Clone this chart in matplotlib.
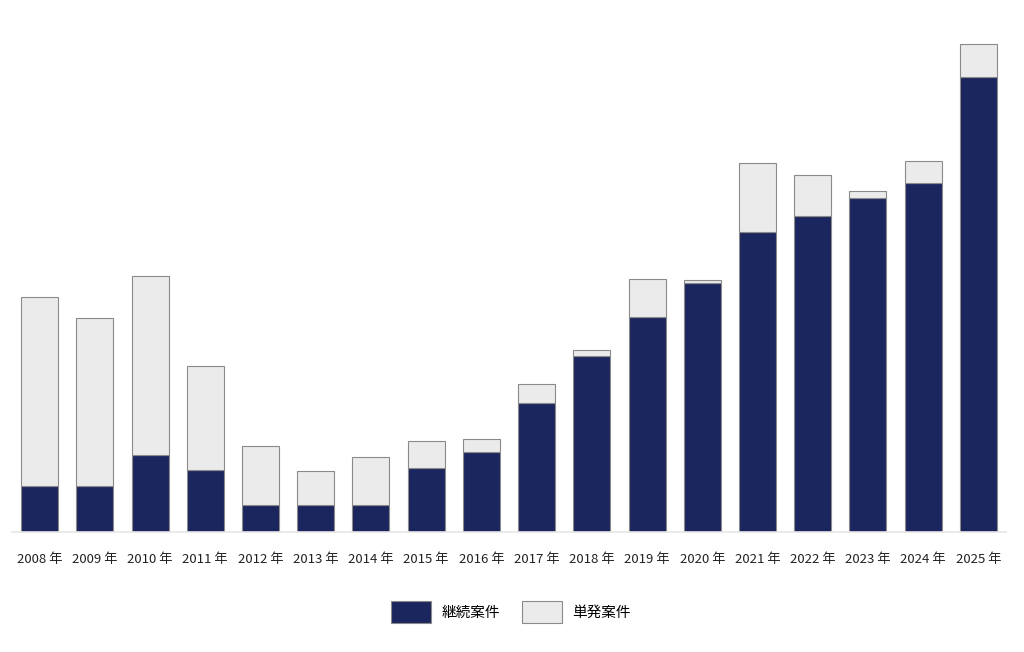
import matplotlib
matplotlib.use("Agg")
import matplotlib.pyplot as plt
import numpy as np

plt.rcParams['font.family'] = ['Noto Sans CJK JP', 'DejaVu Sans']

# ─── data ────────────────────────────────────────────────────────
years = [f"{y} 年" for y in range(2008, 2026)]
keizoku = [46, 46, 77, 62, 27, 27, 27, 64, 80, 129, 176, 215, 249, 300, 316, 334, 349, 455]
tanpatsu = [189, 168, 179, 104, 59, 34, 48, 27, 13, 19, 6, 38, 3, 69, 41, 7, 22, 33]

NAVY = "#1b265e"
LIGHT = "#ebebeb"
EDGE = "#8a8a8a"

fig = plt.figure(figsize=(10.24, 6.52), dpi=100)
ax = fig.add_axes([12 / 1024, 120 / 652, 994 / 1024, 500 / 652])

x = np.arange(len(years))
w = 0.67
ax.bar(x, keizoku, w, color=NAVY, edgecolor=EDGE, linewidth=0.8, label="継続案件")
ax.bar(x, tanpatsu, w, bottom=keizoku, color=LIGHT, edgecolor=EDGE,
       linewidth=0.8, label="単発案件")

ax.set_xlim(-0.5, 17.5)
ax.set_ylim(0, 500)
ax.set_xticks(x)
ax.set_xticklabels(years, fontsize=9.5, color="#222222")
ax.tick_params(axis="x", length=0, pad=15)
ax.set_yticks([])
for s in ("top", "left", "right"):
    ax.spines[s].set_visible(False)
ax.spines["bottom"].set_color("#e6e6e6")
ax.spines["bottom"].set_linewidth(1.2)

leg = fig.legend(loc="center", bbox_to_anchor=(511 / 1024, 1 - 612 / 652),
                 ncol=2, frameon=False, fontsize=10.5,
                 handlelength=2.75, handleheight=1.85, columnspacing=1.45,
                 handletextpad=0.75)

fig.savefig("out.png", dpi=100)
